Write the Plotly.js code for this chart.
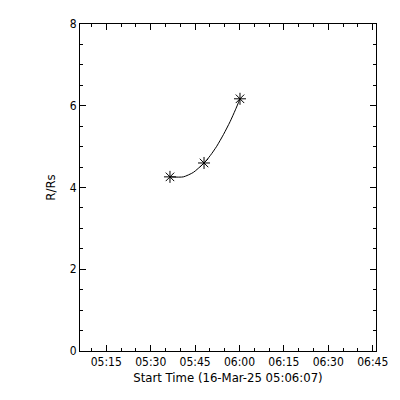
<!DOCTYPE html>
<html>
<head>
<meta charset="utf-8">
<script src="https://cdn.plot.ly/plotly-3.0.1.min.js"></script>
<style>html,body{margin:0;padding:0;background:#fff;}#chart{width:400px;height:400px;}</style>
</head>
<body>
<div id="chart"></div>
<script>
// Measured height-time points
const times = ['2025-03-16 05:36:31', '2025-03-16 05:48:01', '2025-03-16 06:00:10'];
const heights = [4.26, 4.60, 6.17];
// Fitted curve
const fitTimes = ['2025-03-16 05:36:31', '2025-03-16 05:41:01', '2025-03-16 05:44:25', '2025-03-16 05:48:01', '2025-03-16 05:50:07', '2025-03-16 05:52:19', '2025-03-16 05:54:37', '2025-03-16 05:56:49', '2025-03-16 05:58:37', '2025-03-16 06:00:10'];
const fitHeights = [4.26, 4.26, 4.37, 4.60, 4.78, 5.01, 5.30, 5.61, 5.90, 6.17];
const yTickVals = [0, 2, 4, 6, 8];
const yTickText = ['0', '2', '4', '6', '8'];
const xRange = ['2025-03-16 05:06:07', '2025-03-16 06:46:07'];
const xTitle = 'Start Time (16-Mar-25 05:06:07)';
const yTitle = 'R/Rs';

const font = 'DejaVu Sans Condensed, DejaVu Sans, sans-serif';

const data = [
  {x: fitTimes, y: fitHeights, mode: 'lines', type: 'scatter',
   line: {color: '#000', width: 1, shape: 'spline', smoothing: 0.6}, hoverinfo: 'skip'},
  {x: times, y: heights, mode: 'markers', type: 'scatter',
   marker: {symbol: 'asterisk-open', size: 10, color: '#000', line: {color: '#000', width: 1}}}
];

const layout = {
  width: 400, height: 400,
  margin: {l: 80, r: 24, t: 24, b: 49},
  paper_bgcolor: '#fff', plot_bgcolor: '#fff',
  showlegend: false,
  font: {family: font, size: 12, color: '#000'},
  xaxis: {
    type: 'date', range: xRange,
    tick0: '2025-03-16 05:00:00', dtick: 900000, tickformat: '%H:%M',
    ticks: 'inside', ticklen: 6, tickwidth: 1, tickcolor: '#000',
    minor: {dtick: 300000, ticks: 'inside', ticklen: 3, tickwidth: 1, tickcolor: '#000', showgrid: false},
    showline: true, linecolor: '#000', linewidth: 1, mirror: 'ticks',
    showgrid: false, zeroline: false,
    tickfont: {family: font, size: 12},
    title: {text: xTitle, font: {family: font, size: 13}, standoff: 4}
  },
  yaxis: {
    range: [0, 8], tickvals: yTickVals, ticktext: yTickText,
    ticks: 'inside', ticklen: 6, tickwidth: 1, tickcolor: '#000',
    minor: {dtick: 0.5, ticks: 'inside', ticklen: 3, tickwidth: 1, tickcolor: '#000', showgrid: false},
    showline: true, linecolor: '#000', linewidth: 1, mirror: 'ticks',
    showgrid: false, zeroline: false,
    tickfont: {family: font, size: 12},
    title: {text: yTitle, font: {family: font, size: 13}, standoff: 11}
  }
};

Plotly.newPlot('chart', data, layout, {displayModeBar: false, staticPlot: true});
</script>
</body>
</html>
